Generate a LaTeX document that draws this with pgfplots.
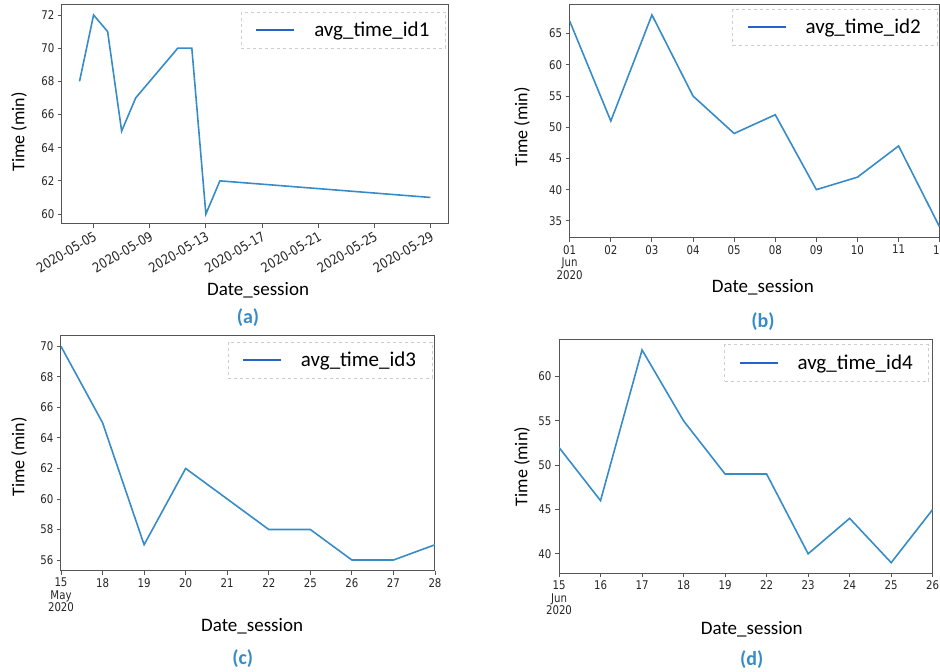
\documentclass[border=0pt]{standalone}
\usepackage{fontspec}
\setmainfont{Carlito}
\newfontfamily\tickfont[FakeStretch=0.85]{DejaVu Sans}
\usepackage{pgfplots}
\pgfplotsset{compat=1.18}
\definecolor{lineblue}{RGB}{55,140,200}
\definecolor{legblue}{RGB}{40,100,200}
\definecolor{capblue}{RGB}{55,140,200}
\definecolor{framegray}{RGB}{85,85,85}
\definecolor{leggray}{RGB}{205,205,205}
\pgfplotsset{
  panel/.style={
    scale only axis,
    axis line style={framegray, line width=1pt},
    tick pos=left,
    tick align=outside,
    major tick length=4pt,
    every tick/.style={framegray, line width=0.9pt},
    ticklabel style={font=\tickfont\fontsize{12}{12.5}\selectfont, text=black!85},
    /pgf/number format/assume math mode=true,
    xlabel style={anchor=center, font=\fontsize{19}{21}\selectfont},
    ylabel style={anchor=center, font=\fontsize{18}{20}\selectfont},
    legend cell align=left,
    legend image code/.code={\draw[legblue, line width=2pt, solid] (0pt,0pt) -- (38pt,0pt);},
    legend style={anchor=north east, draw=leggray, dashed, line width=0.6pt, fill=white,
      font=\fontsize{21}{24}\selectfont, inner xsep=14pt, inner ysep=8pt,
      /tikz/every odd column/.append style={column sep=17pt}},
    cycle list={{lineblue, line width=1.6pt, mark=none, solid}},
  }
}
\begin{document}
\begin{tikzpicture}
% ---------------- (a) ----------------
\begin{axis}[panel,
  at={(62pt,448pt)}, anchor=south west,
  width=386pt, height=219pt,
  xmin=2.75, xmax=30.25, ymin=59.4, ymax=72.6,
  xtick={5,9,13,17,21,25,29},
  xticklabels={2020-05-05,2020-05-09,2020-05-13,2020-05-17,2020-05-21,2020-05-25,2020-05-29},
  xticklabel style={rotate=30, anchor=north east, inner sep=2pt, font=\tickfont\fontsize{13.5}{14}\selectfont},
  ytick={60,62,...,72},
  xlabel={Date\_session}, ylabel={Time (min)},
  xlabel style={at={(axis description cs:0.508,-0.301)}},
  ylabel style={at={(axis description cs:-0.111,0.421)}},
  legend style={at={(axis description cs:0.994,0.969)}},
]
\addplot[lineblue, line width=1.6pt, mark=none] coordinates {(4,68) (5,72) (6,71) (7,65) (8,67) (11,70) (12,70) (13,60) (14,62) (29,61)};
\addlegendentry{avg\_time\_id1}
\end{axis}
% ---------------- (b) ----------------
\begin{axis}[panel,
  at={(569.7pt,434.3pt)}, anchor=south west,
  width=370pt, height=233.4pt,
  xmin=0, xmax=9, ymin=32.3, ymax=69.7,
  xtick={0,...,9},
  xticklabels={{01\\Jun\\2020},02,03,04,05,08,09,10,11,12},
  xticklabel style={align=center},
  ytick={35,40,...,65},
  xlabel={Date\_session}, ylabel={Time (min)},
  xlabel style={at={(axis description cs:0.522,-0.211)}},
  ylabel style={at={(axis description cs:-0.129,0.474)}},
  legend style={at={(axis description cs:0.993,0.981)}},
]
\addplot[lineblue, line width=1.6pt, mark=none] coordinates {(0,67) (1,51) (2,68) (3,55) (4,49) (5,52) (6,40) (7,42) (8,47) (9,34)};
\addlegendentry{avg\_time\_id2}
\end{axis}
% ---------------- (c) ----------------
\begin{axis}[panel,
  at={(61pt,101.3pt)}, anchor=south west,
  width=374pt, height=235pt,
  xmin=0, xmax=9, ymin=55.3, ymax=70.7,
  xtick={0,...,9},
  xticklabels={{15\\May\\2020},18,19,20,21,22,25,26,27,28},
  xticklabel style={align=center},
  ytick={56,58,...,70},
  xlabel={Date\_session}, ylabel={Time (min)},
  xlabel style={at={(axis description cs:0.511,-0.238)}},
  ylabel style={at={(axis description cs:-0.112,0.485)}},
  legend style={at={(axis description cs:0.993,0.975)}},
]
\addplot[lineblue, line width=1.6pt, mark=none] coordinates {(0,70) (1,65) (2,57) (3,62) (4,60) (5,58) (6,58) (7,56) (8,56) (9,57)};
\addlegendentry{avg\_time\_id3}
\end{axis}
% ---------------- (d) ----------------
\begin{axis}[panel,
  at={(559pt,98.7pt)}, anchor=south west,
  width=373.7pt, height=234pt,
  xmin=0, xmax=9, ymin=37.8, ymax=64.2,
  xtick={0,...,9},
  xticklabels={{15\\Jun\\2020},16,17,18,19,22,23,24,25,26},
  xticklabel style={align=center},
  ytick={40,45,...,60},
  xlabel={Date\_session}, ylabel={Time (min)},
  xlabel style={at={(axis description cs:0.516,-0.239)}},
  ylabel style={at={(axis description cs:-0.099,0.456)}},
  legend style={at={(axis description cs:0.990,0.978)}},
]
\addplot[lineblue, line width=1.6pt, mark=none] coordinates {(0,52) (1,46) (2,63) (3,55) (4,49) (5,49) (6,40) (7,44) (8,39) (9,45)};
\addlegendentry{avg\_time\_id4}
\end{axis}
% captions
\node[font=\bfseries\fontsize{20}{22}\selectfont, text=capblue] at (248pt,354pt) {(a)};
\node[font=\bfseries\fontsize{20}{22}\selectfont, text=capblue] at (763pt,350.3pt) {(b)};
\node[font=\bfseries\fontsize{20}{22}\selectfont, text=capblue] at (242.7pt,13.7pt) {(c)};
\node[font=\bfseries\fontsize{20}{22}\selectfont, text=capblue] at (751.7pt,12pt) {(d)};
\pgfresetboundingbox
\useasboundingbox (0pt,0pt) rectangle (940pt,672pt);
\end{tikzpicture}
\end{document}
